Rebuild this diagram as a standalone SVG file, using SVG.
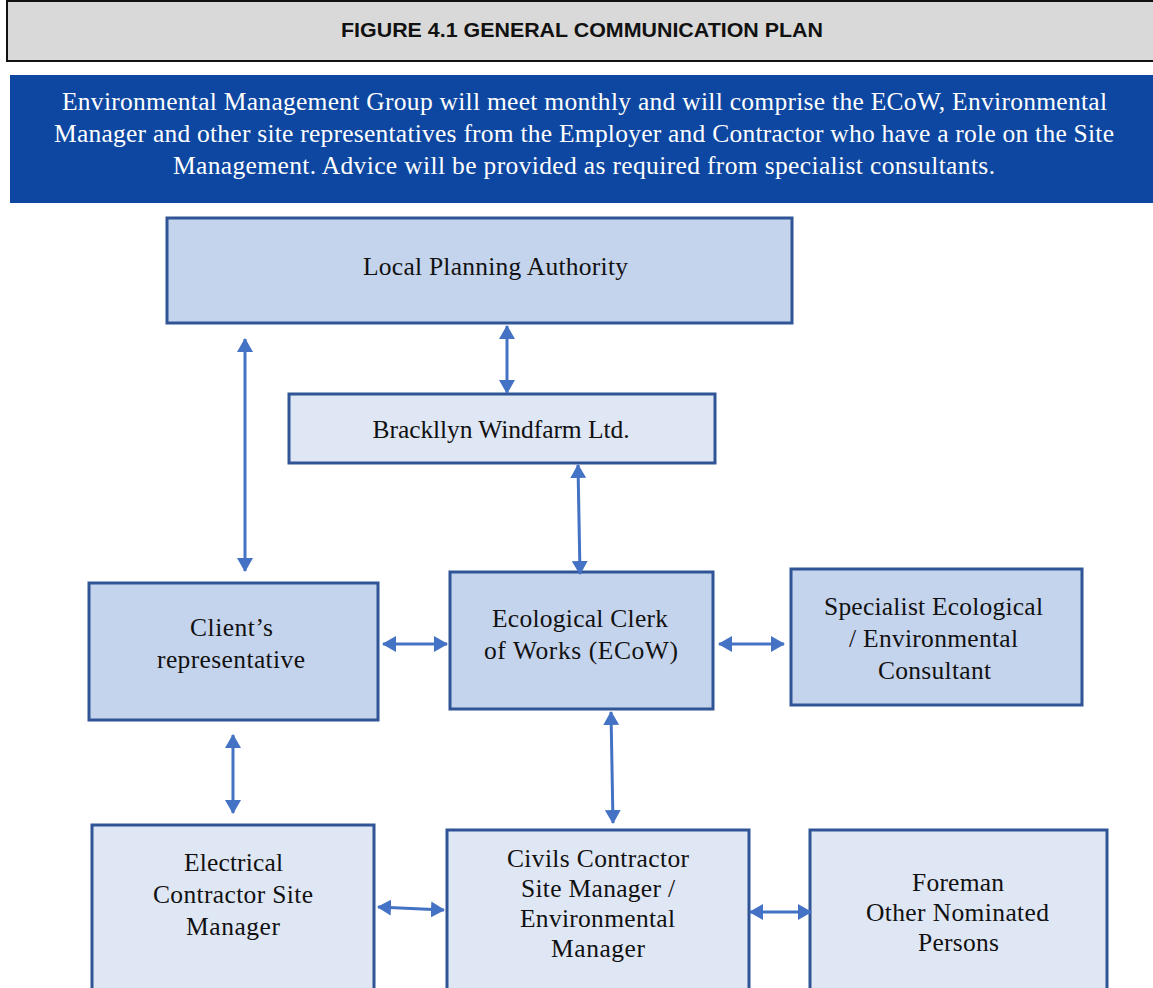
<svg xmlns="http://www.w3.org/2000/svg" width="1153" height="988" viewBox="0 0 1153 988">
<style>
.t{font-family:"Liberation Serif","Times New Roman",serif;font-size:25.5px;fill:#111;text-anchor:middle}
.w{font-family:"Liberation Serif","Times New Roman",serif;font-size:25.5px;fill:#fff;text-anchor:middle}
.dk{fill:#c5d4ed;stroke:#2f5597;stroke-width:3}
.lt{fill:#dfe6f4;stroke:#2f5597;stroke-width:3}
.c{stroke:#4472c4;stroke-width:3;fill:none;marker-start:url(#ah);marker-end:url(#ah)}
</style>
<defs>
<marker id="ah" viewBox="0 0 14 16" refX="13" refY="8" markerWidth="14" markerHeight="16" markerUnits="userSpaceOnUse" orient="auto-start-reverse">
<path d="M0,0 L14,8 L0,16 Z" fill="#4472c4"/>
</marker>
</defs>
<rect width="1153" height="988" fill="#fff"/>
<g id="title">
<rect x="7" y="1" width="1150" height="60" fill="#d9d9d9" stroke="#111" stroke-width="2"/>
<text x="582" y="37" textLength="482" lengthAdjust="spacingAndGlyphs" style="font-family:'Liberation Sans',Arial,sans-serif;font-size:20px;font-weight:bold;fill:#111;text-anchor:middle">FIGURE 4.1 GENERAL COMMUNICATION PLAN</text>
</g>
<g id="banner">
<rect x="10" y="75" width="1143" height="128" fill="#0d47a1"/>
<text class="w" x="584.5" y="110" textLength="1045">Environmental Management Group will meet monthly and will comprise the ECoW, Environmental</text>
<text class="w" x="584" y="142" textLength="1060">Manager and other site representatives from the Employer and Contractor who have a role on the Site</text>
<text class="w" x="584" y="174" textLength="822">Management.  Advice will be provided as required from specialist consultants.</text>
</g>
<g id="lpa">
<rect class="dk" x="167" y="218" width="625" height="105"/>
<text class="t" x="495.5" y="275" textLength="265">Local Planning Authority</text>
</g>
<g id="bwl">
<rect class="lt" x="289" y="394" width="426" height="69"/>
<text class="t" x="501" y="438" textLength="257">Brackllyn Windfarm Ltd.</text>
</g>
<g id="client">
<rect class="dk" x="89" y="583" width="289" height="137"/>
<text class="t" x="231.5" y="636" textLength="83">Client’s</text>
<text class="t" x="231" y="668" textLength="148">representative</text>
</g>
<g id="ecow">
<rect class="dk" x="450" y="572" width="263" height="137"/>
<text class="t" x="580" y="627" textLength="176">Ecological Clerk</text>
<text class="t" x="581" y="659" textLength="194">of Works (ECoW)</text>
</g>
<g id="specialist">
<rect class="dk" x="791" y="569" width="291" height="136"/>
<text class="t" x="933.5" y="615" textLength="219">Specialist Ecological</text>
<text class="t" x="933.5" y="647" textLength="169">/ Environmental</text>
<text class="t" x="934.5" y="679" textLength="113">Consultant</text>
</g>
<g id="electrical">
<rect class="lt" x="92" y="825" width="282" height="170"/>
<text class="t" x="233.5" y="871" textLength="99">Electrical</text>
<text class="t" x="233" y="903" textLength="160">Contractor Site</text>
<text class="t" x="233" y="935" textLength="94">Manager</text>
</g>
<g id="civils">
<rect class="lt" x="447" y="830" width="302" height="170"/>
<text class="t" x="598" y="867" textLength="182">Civils Contractor</text>
<text class="t" x="598" y="897" textLength="154">Site Manager /</text>
<text class="t" x="597.5" y="927" textLength="155">Environmental</text>
<text class="t" x="598" y="957" textLength="94">Manager</text>
</g>
<g id="foreman">
<rect class="lt" x="810" y="830" width="297" height="170"/>
<text class="t" x="958" y="891" textLength="92">Foreman</text>
<text class="t" x="957.5" y="921" textLength="183">Other Nominated</text>
<text class="t" x="958.5" y="951" textLength="81">Persons</text>
</g>
<g id="connectors">
<line class="c" x1="507" y1="326" x2="507" y2="393"/>
<line class="c" x1="578" y1="465" x2="580" y2="574"/>
<line class="c" x1="245" y1="339" x2="245" y2="571"/>
<line class="c" x1="383" y1="644" x2="447" y2="644"/>
<line class="c" x1="719" y1="644" x2="784" y2="644"/>
<line class="c" x1="233" y1="735" x2="233" y2="813"/>
<line class="c" x1="611" y1="712" x2="613" y2="823"/>
<line class="c" x1="378" y1="907" x2="444" y2="910"/>
<line class="c" x1="750" y1="912" x2="811" y2="912"/>
</g>
</svg>
